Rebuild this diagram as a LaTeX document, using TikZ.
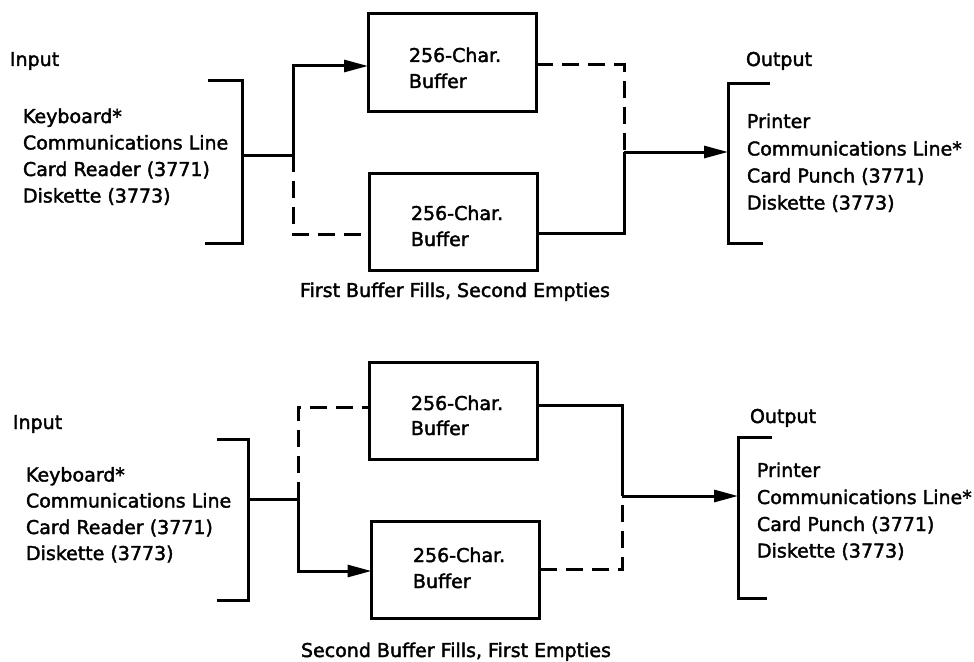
\documentclass[tikz,border=0pt]{standalone}
\usepackage{fontspec}
\setmainfont{DejaVu Sans}[BoldFont=DejaVu Sans,BoldFeatures={FakeBold=2}]
\usetikzlibrary{arrows.meta}
\begin{document}
\begin{tikzpicture}[x=1pt,y=-1pt,
  every node/.style={inner sep=0pt,outer sep=0pt},
  txt/.style={anchor=base west,font=\fontsize{19}{26}\selectfont\bfseries},
  bufbox/.style={draw,line width=3pt,minimum width=168pt,minimum height=97pt},
  ln/.style={line width=3pt},
  dsh/.style={line width=3pt,dash pattern=on 17pt off 9pt},
  arr/.style={-{Triangle[length=24pt,width=12pt]}}]
\useasboundingbox (0,0) rectangle (974,661);
% ================= top diagram =================
\node[txt] (inlabA) at (10,66) {Input};
\node[txt] (inA1) at (23,123) {Keyboard*};
\node[txt] (inA2) at (23,149.5) {Communications Line};
\node[txt] (inA3) at (23,176) {Card Reader (3771)};
\node[txt] (inA4) at (23,202.5) {Diskette (3773)};
\draw[ln] (208,80) -- (242,80) -- (242,243) -- (205,243);
\coordinate (inA) at (242,155);
\coordinate (jA) at (293,155);

\node[bufbox] (a1) at (452,62.5) {};
\node[txt] (a1t1) at (409,62) {256-Char.};
\node[txt] (a1t2) at (409,88) {Buffer};
\node[bufbox] (a2) at (453.5,222) {};
\node[txt] (a2t1) at (411,220) {256-Char.};
\node[txt] (a2t2) at (411,246) {Buffer};

\coordinate (oA) at (624,152);
\coordinate (outA) at (728,152);
\draw[ln] (inA) -- (jA);
\draw[ln,arr] (jA) |- ([yshift=-3.5pt]a1.west);
\draw[dsh] (jA) |- ([yshift=-12pt]a2.west);
\draw[dsh] ([yshift=-2.5pt]a1.east) -| (oA);
\draw[ln] ([yshift=-11pt]a2.east) -| (oA);
\draw[ln,arr] (oA) -- (outA);

\draw[ln] (770,83) -- (728,83) -- (728,243) -- (763,243);
\node[txt] (outlabA) at (746,66) {Output};
\node[txt] (outA1) at (747,128) {Printer};
\node[txt] (outA2) at (747,155.5) {Communications Line*};
\node[txt] (outA3) at (747,182.5) {Card Punch (3771)};
\node[txt] (outA4) at (747,209.5) {Diskette (3773)};

\node[txt,anchor=base] (capA) at (455,297) {First Buffer Fills, Second Empties};

% ================= bottom diagram =================
\node[txt] (inlabB) at (13,429) {Input};
\node[txt] (inB1) at (26,481.5) {Keyboard*};
\node[txt] (inB2) at (26,507.5) {Communications Line};
\node[txt] (inB3) at (26,534) {Card Reader (3771)};
\node[txt] (inB4) at (26,560) {Diskette (3773)};
\draw[ln] (217,439) -- (248,439) -- (248,600) -- (217,600);
\coordinate (inB) at (248,499);
\coordinate (jB) at (298,499);

\node[bufbox] (b1) at (453.5,411) {};
\node[txt] (b1t1) at (411,410) {256-Char.};
\node[txt] (b1t2) at (411,435) {Buffer};
\node[bufbox] (b2) at (455.5,570) {};
\node[txt] (b2t1) at (413,562) {256-Char.};
\node[txt] (b2t2) at (413,588) {Buffer};

\coordinate (oB) at (622,496);
\coordinate (outB) at (738,496);
\draw[ln] (inB) -- (jB);
\draw[dsh] (jB) |- ([yshift=4pt]b1.west);
\draw[ln,arr] (jB) |- ([yshift=-1pt]b2.west);
\draw[ln] ([yshift=6pt]b1.east) -| (oB);
\draw[dsh] ([yshift=1pt]b2.east) -| (oB);
\draw[ln,arr] (oB) -- (outB);

\draw[ln] (772,437) -- (738,437) -- (738,598) -- (767,598);
\node[txt] (outlabB) at (750,423) {Output};
\node[txt] (outB1) at (757,477) {Printer};
\node[txt] (outB2) at (757,504) {Communications Line*};
\node[txt] (outB3) at (757,531) {Card Punch (3771)};
\node[txt] (outB4) at (757,557.5) {Diskette (3773)};

\node[txt,anchor=base] (capB) at (456,657) {Second Buffer Fills, First Empties};
\end{tikzpicture}
\end{document}
